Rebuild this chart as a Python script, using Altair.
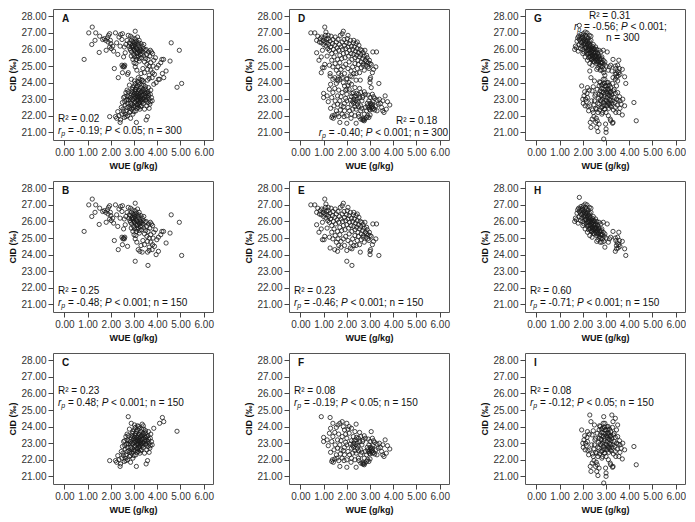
import altair as alt
import pandas as pd

# ---- data (WUE g/kg, CID per mil) ----
B = [(0.85, 25.40), (1.05, 27.00), (1.20, 27.35), (1.18, 26.30), (1.32, 26.55), (1.35, 27.00), (1.52, 26.80), (1.50, 25.82),
     (1.65, 26.60), (1.72, 26.65), (1.78, 26.55), (1.80, 25.95), (1.85, 26.70), (1.90, 26.85), (1.95, 26.95), (1.88, 26.45),
     (1.98, 26.55), (1.95, 26.15), (2.02, 26.05), (2.00, 26.35), (2.08, 26.20), (2.12, 25.90), (2.20, 27.00), (2.25, 26.40),
     (2.30, 25.70), (2.35, 26.75), (2.42, 26.90), (2.50, 26.95), (2.48, 26.60), (2.40, 26.20), (2.15, 24.85), (2.32, 24.30),
     (2.48, 25.05), (2.52, 24.95), (2.55, 25.00), (2.58, 24.95), (2.60, 25.05), (2.50, 24.60), (2.72, 24.50), (2.58, 26.15),
     (2.65, 26.30), (2.70, 26.55), (2.75, 26.85), (2.80, 26.40), (2.85, 26.80), (2.62, 25.80), (2.55, 25.55),
     (2.78, 26.20), (2.82, 26.05), (2.85, 26.35), (2.88, 26.55), (2.90, 25.85), (2.92, 26.25), (2.95, 26.45), (2.96, 26.10),
     (2.98, 25.70), (3.00, 26.40), (3.00, 26.00), (3.02, 25.55), (3.03, 26.30), (3.05, 27.10), (3.05, 26.65), (3.06, 25.85),
     (3.08, 26.15), (3.10, 25.40), (3.10, 26.50), (3.12, 25.75), (3.13, 26.35), (3.15, 26.00), (3.17, 25.60), (3.18, 26.25),
     (3.20, 25.90), (3.22, 26.55), (3.23, 25.30), (3.25, 26.10), (3.27, 25.70), (3.30, 26.35), (3.30, 25.95), (3.32, 25.50),
     (3.35, 26.20), (2.88, 25.60), (2.95, 25.40), (3.00, 25.20), (3.05, 24.95), (2.93, 26.70), (3.15, 26.75), (3.08, 25.15),
     (2.98, 26.20), (3.02, 25.95), (3.10, 26.05), (3.12, 25.55), (3.20, 26.40), (3.25, 25.85), (2.90, 26.15), (3.05, 26.45),
     (3.15, 25.80), (3.28, 26.00), (2.85, 25.95), (3.22, 25.45), (3.35, 25.70),
     (3.38, 25.85), (3.40, 26.05), (3.42, 25.60), (3.45, 25.25), (3.48, 25.95), (3.50, 25.45), (3.52, 26.00), (3.55, 25.70),
     (3.55, 25.10), (3.58, 24.80), (3.60, 25.40), (3.62, 25.85), (3.65, 25.00), (3.65, 24.45), (3.68, 25.60), (3.70, 25.95),
     (3.72, 24.75), (3.72, 25.20), (3.75, 25.85), (3.78, 24.30), (3.80, 25.75), (3.80, 24.60), (3.82, 25.00), (3.85, 25.35),
     (3.88, 24.50), (3.45, 24.60), (3.38, 24.85), (3.30, 24.55), (3.25, 24.20), (3.18, 24.30), (3.12, 24.75), (3.35, 24.15),
     (3.58, 24.15), (3.65, 24.25), (3.05, 23.60), (3.60, 23.35), (3.95, 24.00), (4.05, 24.20), (3.98, 24.90), (4.05, 25.05),
     (4.15, 25.20), (4.20, 25.40), (4.27, 25.40), (4.38, 24.70), (4.55, 25.30), (4.60, 26.40), (4.95, 25.95), (5.05, 23.95),
     (3.92, 25.50), (3.42, 26.30)]

C = [(1.95, 21.95), (2.20, 21.95), (2.25, 21.85), (2.30, 22.25), (2.35, 22.00), (2.40, 21.60), (2.42, 21.75), (2.45, 22.50),
     (2.48, 22.10), (2.50, 22.80), (2.55, 23.10), (2.52, 22.40), (2.60, 23.15), (2.58, 21.90), (2.62, 22.65), (2.65, 22.30),
     (2.68, 22.95), (2.70, 23.20), (2.72, 22.00), (2.75, 24.60), (2.75, 23.45), (2.78, 22.55), (2.80, 22.20), (2.80, 23.85),
     (2.82, 23.00), (2.85, 21.85), (2.85, 22.75), (2.88, 23.30), (2.88, 24.20), (2.90, 22.40), (2.92, 23.60), (2.95, 22.95),
     (2.95, 22.10), (2.98, 23.25), (3.00, 23.80), (3.00, 22.60), (3.02, 24.10), (3.05, 22.85), (3.05, 23.50), (3.08, 22.30),
     (3.08, 23.10), (3.10, 21.60), (3.10, 23.70), (3.12, 22.70), (3.12, 23.35), (3.15, 22.95), (3.15, 24.05), (3.18, 23.20),
     (3.18, 22.50), (3.20, 23.55), (3.20, 22.80), (3.22, 23.90), (3.25, 23.05), (3.25, 22.40), (3.28, 23.40), (3.28, 22.90),
     (3.30, 23.70), (3.30, 23.20), (3.32, 22.60), (3.35, 24.15), (3.35, 23.00), (3.38, 23.50), (3.40, 22.75), (3.40, 23.30),
     (3.42, 23.85), (3.45, 23.10), (3.45, 22.40), (3.48, 23.60), (3.50, 22.90), (3.50, 23.35), (3.52, 21.75), (3.55, 23.15),
     (3.55, 22.60), (3.58, 21.95), (3.60, 23.45), (3.60, 22.80), (3.62, 23.70), (3.65, 23.00), (3.68, 22.70), (3.70, 23.30),
     (3.72, 23.55), (3.75, 23.10), (3.78, 22.90), (3.85, 23.90), (4.10, 24.20), (4.22, 24.55), (4.28, 24.30), (4.85, 23.72),
     (2.85, 23.10), (2.90, 23.00), (2.92, 22.70), (2.95, 23.40), (2.97, 22.50), (3.00, 23.05), (3.00, 22.25), (3.02, 23.35),
     (3.03, 22.80), (3.05, 23.20), (3.06, 22.55), (3.08, 23.60), (3.10, 22.95), (3.10, 23.25), (3.12, 22.45), (3.13, 23.80),
     (3.15, 23.15), (3.15, 22.65), (3.17, 23.45), (3.18, 22.95), (3.20, 23.10), (3.22, 22.65), (3.22, 23.30), (3.25, 23.55),
     (3.25, 22.80), (3.27, 23.15), (3.28, 22.55), (3.30, 22.95), (3.32, 23.45), (3.33, 23.85), (3.35, 22.85), (3.35, 23.25),
     (3.38, 23.05), (3.40, 23.60), (3.42, 22.95), (3.45, 23.45), (3.48, 23.20), (3.50, 23.75), (3.52, 23.00), (3.55, 23.40),
     (2.70, 22.50), (2.72, 22.75), (2.75, 22.95), (2.78, 23.15), (2.82, 22.45), (2.85, 22.25), (2.88, 22.60), (2.90, 23.45),
     (2.62, 22.10), (2.65, 21.95), (2.55, 22.25), (2.60, 22.85), (2.70, 23.55), (2.65, 23.40), (2.95, 23.70), (3.05, 23.95),
     (3.20, 24.00), (3.40, 24.05), (3.60, 23.10), (3.65, 22.45), (3.70, 22.85), (3.62, 23.25)]

E = [(0.45, 27.00), (0.62, 27.00), (0.70, 26.55), (0.75, 26.80), (0.82, 26.45), (0.70, 25.80), (0.80, 25.35), (0.90, 25.55),
     (0.95, 25.95), (0.95, 24.90), (1.02, 24.90), (1.05, 27.35), (1.10, 27.05), (1.20, 26.85), (1.28, 24.40), (1.48, 24.30),
     (1.60, 24.20), (1.75, 24.45), (1.85, 27.10), (1.80, 26.95), (2.00, 23.60), (2.22, 23.35), (2.00, 24.25), (2.15, 24.40),
     (2.22, 24.35), (2.40, 24.55), (2.58, 24.15), (2.75, 24.75), (2.90, 24.95), (3.00, 24.20), (3.00, 24.00), (3.02, 24.30),
     (3.12, 25.85), (3.25, 24.95), (3.28, 25.85), (3.38, 23.95), (2.85, 25.25), (2.97, 25.35), (3.00, 25.15), (2.85, 25.65),
     (0.85, 26.65), (0.90, 26.40), (0.92, 26.75), (0.98, 26.55), (1.00, 26.30), (1.02, 26.70), (1.05, 26.45), (1.08, 26.85),
     (1.10, 26.20), (1.12, 26.60), (1.15, 26.40), (1.18, 26.05), (1.20, 26.65), (1.22, 26.30), (1.25, 25.95), (1.28, 26.50),
     (1.30, 26.15), (1.32, 26.80), (1.35, 25.75), (1.38, 26.35), (1.40, 26.60), (1.42, 26.00), (1.45, 25.55), (1.48, 26.25),
     (1.50, 26.75), (1.52, 25.85), (1.55, 26.45), (1.58, 26.10), (1.60, 25.40), (1.62, 26.60), (1.65, 25.95), (1.68, 26.30),
     (1.70, 25.65), (1.72, 26.85), (1.75, 26.15), (1.78, 25.45), (1.80, 26.45), (1.82, 26.00), (1.85, 25.75), (1.88, 26.60),
     (1.90, 26.25), (1.92, 25.50), (1.95, 26.05), (1.98, 26.40), (2.00, 25.80), (2.02, 26.65), (2.05, 26.15), (2.08, 25.60),
     (2.10, 26.35), (2.12, 25.95), (2.15, 26.55), (2.18, 25.75), (2.20, 26.20), (2.22, 25.40), (2.25, 26.00), (2.28, 26.40),
     (2.30, 25.70), (2.32, 26.15), (2.35, 25.50), (2.38, 25.90), (2.40, 26.35), (2.42, 25.65), (2.45, 26.05), (2.48, 25.35),
     (2.50, 25.80), (2.52, 26.25), (2.55, 25.55), (2.58, 26.00), (2.60, 25.70), (2.62, 25.25), (2.65, 25.95), (2.68, 25.45),
     (2.70, 25.80), (2.72, 25.15), (2.75, 25.60), (2.78, 25.95), (2.80, 25.35), (2.82, 25.05), (2.88, 25.50), (2.92, 25.20),
     (2.95, 24.85), (3.05, 25.10), (3.10, 24.60), (3.15, 24.80), (2.30, 26.55), (2.45, 26.45), (2.05, 26.85),
     (1.05, 25.10), (1.15, 25.60), (1.25, 25.05), (1.35, 25.35), (1.40, 24.95), (1.50, 25.15), (1.55, 24.75), (1.62, 24.95),
     (1.70, 25.20), (1.75, 24.80), (1.85, 24.95), (1.90, 24.55), (1.95, 25.10), (2.05, 24.85), (2.10, 25.25), (2.18, 24.70),
     (2.25, 24.95), (2.30, 24.55), (2.35, 25.15), (2.45, 24.85), (2.50, 25.10), (2.55, 24.60), (2.62, 24.90), (2.70, 25.05),
     (1.65, 24.55)]

F = [(0.90, 24.60), (1.28, 24.55), (1.40, 24.20), (1.30, 23.90), (1.00, 23.35), (1.00, 23.10), (1.20, 22.85), (1.25, 23.60),
     (1.15, 23.20), (1.35, 23.10), (1.40, 23.40), (1.48, 23.65), (1.55, 23.95), (1.62, 24.10), (1.70, 24.20), (1.80, 24.30),
     (1.85, 24.00), (1.90, 23.80), (2.00, 24.20), (2.10, 24.00), (2.20, 23.90), (2.40, 24.15), (2.35, 23.70), (2.28, 23.40),
     (1.50, 22.90), (1.45, 22.60), (1.55, 22.30), (1.38, 22.00), (1.35, 21.90), (1.42, 21.85), (1.48, 22.05), (1.65, 21.95),
     (1.70, 21.60), (1.80, 22.10), (1.90, 22.30), (1.75, 22.60), (1.70, 22.90), (1.60, 23.20), (1.80, 23.40), (2.00, 23.30),
     (2.00, 22.90), (2.05, 22.50), (2.00, 22.00), (2.00, 21.55), (2.20, 22.10), (2.25, 22.40), (2.20, 22.70), (2.30, 23.00),
     (2.40, 23.20), (2.45, 23.00), (2.50, 23.30), (2.45, 22.70), (2.40, 22.40), (2.35, 22.00), (2.40, 21.55), (2.50, 22.10),
     (2.60, 22.30), (2.60, 22.60), (2.55, 23.10), (2.60, 23.40), (2.70, 23.20), (2.75, 23.45), (2.80, 23.30), (2.65, 22.90),
     (2.68, 21.75), (2.72, 21.75), (2.78, 21.80), (2.85, 21.90), (2.90, 22.00), (2.75, 22.10), (2.85, 22.30), (2.90, 22.60),
     (2.95, 22.90), (3.00, 23.10), (3.05, 22.50), (3.10, 22.70), (3.10, 22.40), (3.00, 22.35), (3.05, 23.70), (3.10, 23.30),
     (3.20, 23.05), (3.25, 22.60), (3.30, 22.30), (3.35, 22.70), (3.40, 23.00), (3.50, 22.50), (3.55, 22.30), (3.60, 22.20),
     (3.65, 23.20), (3.75, 22.85), (3.85, 22.65), (3.70, 22.40), (3.30, 22.95), (3.15, 23.15), (3.00, 22.05), (2.95, 21.90),
     (2.60, 21.80), (1.30, 22.45), (1.60, 22.70), (1.90, 22.75), (2.10, 23.60), (2.20, 23.15), (2.25, 22.85), (2.35, 22.55),
     (2.50, 22.55), (2.30, 22.75), (2.38, 22.90), (2.42, 23.35), (2.48, 22.85), (2.32, 23.15), (2.15, 22.95), (2.12, 22.30),
     (1.95, 23.05), (1.85, 22.55), (2.95, 22.50), (3.00, 22.60), (3.05, 22.65), (3.10, 22.55), (3.12, 22.85), (3.02, 22.75),
     (2.98, 22.40), (3.15, 22.45), (2.88, 22.75), (2.92, 23.25), (3.20, 22.35), (2.70, 21.85), (2.75, 21.70), (2.80, 22.50),
     (2.65, 22.45), (1.75, 23.15), (1.65, 23.55), (1.95, 23.55), (2.05, 23.85), (2.55, 23.65), (2.68, 23.10), (3.45, 22.75),
     (3.55, 22.90), (1.58, 22.10), (1.72, 22.35), (2.18, 21.85), (2.52, 21.95), (1.88, 21.95)]

H = [(1.85, 27.45), (1.65, 26.00), (1.68, 26.20), (1.72, 26.10), (1.75, 26.50), (1.78, 26.70), (1.80, 25.90), (1.82, 26.80),
     (1.85, 26.30), (1.85, 26.60), (1.88, 26.75), (1.90, 26.45), (1.92, 26.90), (1.95, 26.20), (1.95, 26.65), (1.98, 26.80),
     (2.00, 26.00), (2.00, 26.50), (2.02, 26.95), (2.05, 26.30), (2.05, 25.85), (2.08, 26.65), (2.10, 27.05), (2.10, 26.10),
     (2.12, 26.45), (2.15, 25.90), (2.15, 26.75), (2.18, 26.25), (2.18, 27.00), (2.20, 25.70), (2.20, 26.55), (2.22, 26.00),
     (2.25, 26.40), (2.25, 25.50), (2.28, 26.15), (2.28, 26.85), (2.30, 25.80), (2.30, 26.30), (2.32, 25.60), (2.35, 26.00),
     (2.35, 26.55), (2.38, 25.40), (2.38, 25.85), (2.40, 26.20), (2.40, 25.65), (2.42, 25.95), (2.45, 25.50), (2.45, 26.30),
     (2.48, 25.75), (2.50, 25.25), (2.50, 26.05), (2.52, 25.55), (2.55, 25.85), (2.55, 25.35), (2.58, 25.65), (2.60, 26.00),
     (2.60, 25.15), (2.62, 25.45), (2.65, 25.75), (2.65, 24.90), (2.68, 25.30), (2.70, 25.60), (2.72, 25.05), (2.75, 25.40),
     (2.75, 24.75), (2.78, 25.85), (2.80, 25.20), (2.82, 25.55), (2.85, 24.95), (2.88, 25.35), (2.90, 24.80), (2.92, 25.10),
     (2.95, 24.45), (3.00, 25.00), (3.05, 25.85), (3.10, 24.75), (3.15, 24.95), (3.20, 25.05), (3.30, 25.40), (3.40, 25.00),
     (3.42, 24.85), (3.45, 24.55), (3.40, 24.20), (3.48, 24.70), (3.50, 25.05), (3.52, 24.40), (3.55, 25.35), (3.55, 24.60),
     (3.58, 24.85), (3.60, 24.50), (3.70, 24.80), (3.80, 24.35), (3.85, 23.95), (3.45, 24.35), (2.10, 25.55), (2.20, 25.35),
     (2.30, 25.15), (2.40, 25.05), (1.90, 26.05), (2.00, 25.75),
     (1.95, 26.40), (2.00, 26.70), (2.05, 26.55), (2.08, 26.20), (2.10, 26.35), (2.12, 26.85), (2.15, 26.10), (2.15, 26.50),
     (2.18, 25.80), (2.20, 26.35), (2.22, 26.70), (2.22, 25.95), (2.25, 26.10), (2.25, 25.75), (2.28, 26.50), (2.30, 25.55),
     (2.30, 26.00), (2.32, 26.25), (2.35, 25.75), (2.35, 25.45), (2.38, 26.10), (2.40, 25.90), (2.40, 25.40), (2.42, 25.60),
     (2.45, 25.80), (2.45, 25.30), (2.48, 26.00), (2.50, 25.60), (2.50, 25.45), (2.52, 25.80), (2.55, 25.60), (2.58, 25.30),
     (2.60, 25.55), (2.62, 25.80), (2.65, 25.25), (2.68, 25.55), (2.70, 25.10), (2.72, 25.45), (2.75, 25.20), (2.78, 25.00),
     (2.80, 25.45), (2.85, 25.20), (2.35, 26.80), (2.45, 26.05), (2.55, 26.15), (2.70, 25.95), (2.88, 25.95), (2.95, 25.25),
     (2.60, 24.80), (2.82, 24.75)]

I = [(1.95, 23.80), (2.00, 23.00), (2.02, 22.75), (2.05, 23.20), (2.08, 23.45), (2.10, 22.60), (2.12, 23.00), (2.15, 22.85),
     (2.18, 23.35), (2.20, 23.10), (2.20, 23.70), (2.22, 22.55), (2.25, 22.30), (2.28, 23.55), (2.30, 24.70), (2.30, 22.60),
     (2.32, 21.60), (2.35, 24.30), (2.35, 21.30), (2.38, 22.90), (2.40, 23.50), (2.40, 21.80), (2.42, 22.35), (2.45, 22.20),
     (2.45, 23.75), (2.48, 22.65), (2.50, 22.90), (2.50, 24.10), (2.52, 23.20), (2.55, 23.30), (2.55, 22.45), (2.58, 21.85),
     (2.60, 22.40), (2.60, 21.30), (2.62, 23.60), (2.65, 21.05), (2.65, 22.75), (2.68, 23.05), (2.70, 21.50), (2.70, 22.70),
     (2.70, 23.80), (2.72, 24.05), (2.72, 22.35), (2.75, 24.00), (2.75, 23.50), (2.75, 22.95), (2.78, 23.25), (2.80, 23.20),
     (2.80, 22.50), (2.80, 23.85), (2.82, 22.10), (2.82, 23.65), (2.85, 23.90), (2.85, 22.20), (2.85, 23.00), (2.88, 24.20),
     (2.88, 23.40), (2.88, 22.65), (2.90, 24.60), (2.90, 23.60), (2.90, 22.80), (2.90, 20.60), (2.92, 23.15), (2.92, 22.40),
     (2.95, 24.20), (2.95, 23.30), (2.95, 22.40), (2.95, 23.80), (2.98, 22.95), (2.98, 21.50), (3.00, 21.20), (3.00, 21.00),
     (3.00, 23.80), (3.00, 22.20), (3.02, 23.45), (3.05, 23.10), (3.05, 22.60), (3.05, 24.00), (3.08, 22.85), (3.08, 23.60),
     (3.10, 24.00), (3.10, 23.50), (3.10, 22.00), (3.12, 23.25), (3.12, 22.45), (3.15, 23.00), (3.15, 22.70), (3.15, 23.85),
     (3.18, 23.40), (3.18, 21.80), (3.20, 23.70), (3.20, 21.70), (3.20, 22.90), (3.22, 23.15), (3.22, 22.55), (3.25, 24.70),
     (3.25, 23.30), (3.25, 22.75), (3.28, 23.95), (3.28, 21.55), (3.30, 24.30), (3.30, 22.90), (3.30, 21.60), (3.32, 23.50),
     (3.32, 22.35), (3.35, 23.60), (3.35, 23.10), (3.38, 22.80), (3.40, 24.50), (3.40, 22.50), (3.40, 23.35), (3.42, 22.20),
     (3.45, 23.00), (3.45, 23.80), (3.48, 22.65), (3.50, 24.10), (3.50, 23.40), (3.52, 22.95), (3.55, 22.20), (3.58, 23.15),
     (3.60, 22.90), (3.60, 22.45), (3.65, 22.70), (3.70, 22.05), (3.72, 23.00), (3.80, 22.60), (4.20, 22.80), (4.30, 21.70),
     (2.78, 22.90), (2.82, 23.45), (2.85, 22.55), (2.92, 23.95), (2.95, 22.65), (3.00, 23.60), (3.02, 22.90), (3.05, 23.35),
     (3.08, 23.85), (3.10, 22.75), (3.12, 23.60), (3.15, 23.20), (3.18, 22.60), (3.20, 23.45), (2.70, 23.30), (2.65, 22.20),
     (2.55, 21.60), (2.48, 21.95), (2.62, 21.70)]

X_TICKS = [0, 1, 2, 3, 4, 5, 6]
Y_TICKS = [21, 22, 23, 24, 25, 26, 27, 28]

# ---- styling ----
FONT = "Liberation Sans, Arial, sans-serif"
PW, PH = 160, 131
W = {" ": 278, "=": 584, "-": 333, ".": 278, ";": 278, "<": 584, "n": 556, "P": 667, "r": 333, "p": 556,
     "R": 722, "²": 333}


def tw(s, size):
    return sum(W.get(c, 556) for c in s) * size / 1000.0


def txt(s, x, y, size=10, italic=False, bold=False, dy=0):
    kw = dict(text=s, align="left", baseline="middle", fontSize=size, font=FONT, color="#111")
    if italic:
        kw["fontStyle"] = "italic"
    if bold:
        kw["fontWeight"] = "bold"
    if dy:
        kw["dy"] = dy
    return alt.Chart(alt.Data(values=[{}])).mark_text(**kw).encode(x=alt.value(x), y=alt.value(y))


def rich(pieces, x, y, anchor="left"):
    # pieces: (string, italic, size, dy)
    total = sum(tw(s, sz) for s, _, sz, _ in pieces)
    x0 = x if anchor == "left" else x - total
    out = []
    for s, it, sz, dy in pieces:
        lead = len(s) - len(s.lstrip(" "))
        out.append(txt(s.strip(" "), x0 + tw(" " * lead, sz), y, sz, it, dy=dy))
        x0 += tw(s, sz)
    return out


def rp_pieces(rval, ptxt, tail):
    return [("r", True, 10, 0), ("p", True, 7, 3), (" = " + rval + "; ", False, 10, 0),
            ("P", True, 10, 0), (" " + ptxt + tail, False, 10, 0)]


def panel(points, letter, texts):
    df = pd.DataFrame(points, columns=["WUE", "CID"])
    pts = alt.Chart(df).mark_point(shape="circle", filled=False, size=18, color="#1a1a1a",
                                   strokeWidth=0.8, opacity=1).encode(
        x=alt.X("WUE:Q", scale=alt.Scale(domain=[-0.49, 6.40], nice=False, zero=False),
                axis=alt.Axis(values=X_TICKS, format=".2f", title="WUE (g/kg)")),
        y=alt.Y("CID:Q", scale=alt.Scale(domain=[20.54, 28.44], nice=False, zero=False),
                axis=alt.Axis(values=Y_TICKS, format=".2f", title="CID (‰)")),
    )
    layers = [pts, txt(letter, 9, 10, size=10, bold=True)] + texts
    return alt.layer(*layers).properties(width=PW, height=PH)


pA = panel(B + C, "A", [txt("R² = 0.02", 5, 110)] + rich(rp_pieces("-0.19", "< 0.05", "; n = 300"), 5, 122))
pB = panel(B, "B", [txt("R² = 0.25", 5, 110)] + rich(rp_pieces("-0.48", "< 0.001", "; n = 150"), 5, 122))
pC = panel(C, "C", [txt("R² = 0.23", 5, 38)] + rich(rp_pieces("0.48", "< 0.001", "; n = 150"), 5, 50))
pD = panel(E + F, "D", [txt("R² = 0.18", 107, 112)] + rich(rp_pieces("-0.40", "< 0.001", "; n = 300"), 159, 124, "right"))
pE = panel(E, "E", [txt("R² = 0.23", 5, 110)] + rich(rp_pieces("-0.46", "< 0.001", "; n = 150"), 5, 122))
pF = panel(F, "F", [txt("R² = 0.08", 5, 38)] + rich(rp_pieces("-0.19", "< 0.05", "; n = 150"), 5, 50))
pG = panel(H + I, "G", [txt("R² = 0.31", 64, 7)] + rich(rp_pieces("-0.56", "< 0.001", ";"), 49, 18) + [txt("n = 300", 81, 29)])
pH = panel(H, "H", [txt("R² = 0.60", 5, 110)] + rich(rp_pieces("-0.71", "< 0.001", "; n = 150"), 5, 122))
pI = panel(I, "I", [txt("R² = 0.08", 5, 38)] + rich(rp_pieces("-0.12", "< 0.05", "; n = 150"), 5, 50))

rows = [[pA, pD, pG], [pB, pE, pH], [pC, pF, pI]]
chart = alt.vconcat(*[alt.hconcat(*r, spacing=30) for r in rows], spacing=9).properties(
    padding={"left": 0, "top": 0, "right": 0, "bottom": 0}
).configure_view(stroke="#555", strokeWidth=1).configure_axis(
    labelFont=FONT, labelFontSize=10, labelColor="#333", tickColor="#444", tickSize=5,
    labelPadding=2, domain=False, grid=False, labelFlush=False,
    titleFont=FONT, titleFontSize=9, titleFontWeight="bold", titleColor="#111"
).configure_axisY(titlePadding=3).configure_axisX(titlePadding=4)

chart.save("out.html", embed_options={"renderer": "svg", "actions": False})
